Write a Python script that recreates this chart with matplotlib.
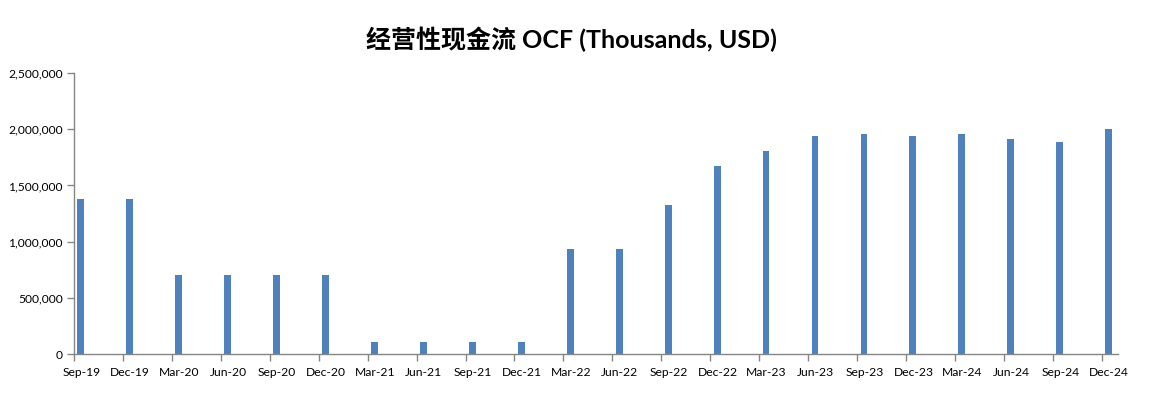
import matplotlib
matplotlib.use("Agg")
import matplotlib.pyplot as plt
from matplotlib.ticker import FuncFormatter
import numpy as np

plt.rcParams['font.family'] = ['Lato', 'Noto Sans CJK SC', 'DejaVu Sans']

# quarterly operating cash flow, thousands USD
quarters = ['Sep-19', 'Dec-19', 'Mar-20', 'Jun-20', 'Sep-20', 'Dec-20',
            'Mar-21', 'Jun-21', 'Sep-21', 'Dec-21', 'Mar-22', 'Jun-22',
            'Sep-22', 'Dec-22', 'Mar-23', 'Jun-23', 'Sep-23', 'Dec-23',
            'Mar-24', 'Jun-24', 'Sep-24', 'Dec-24']
ocf = [1380000, 1380000, 705000, 705000, 705000, 705000,
       110000, 110000, 110000, 110000, 935000, 935000,
       1327000, 1674000, 1807000, 1940000, 1957000, 1940000,
       1957000, 1913000, 1886000, 2002000]
y_ticks = [0, 500000, 1000000, 1500000, 2000000, 2500000]

bar_color = '#4F81BD'
axis_color = '#868686'

fig = plt.figure(figsize=(11.49, 3.97), dpi=100)
ax = fig.add_axes([0.0644, 0.1083, 0.9086, 0.7077])

x = np.arange(len(quarters))
ax.bar(x + 0.14, ocf, width=0.14, color=bar_color, zorder=2)

ax.set_xlim(0, len(quarters) - 1 + 0.33)
ax.set_ylim(0, 2500000)

# tick marks sit on the category boundaries, labels sit under the bars
ax.set_xticks(x, minor=True)
ax.set_xticks(x + 0.15)
ax.set_xticklabels(quarters)
ax.tick_params(axis='x', which='major', length=0, pad=9, labelsize=8.7, labelcolor='#000000')
ax.tick_params(axis='x', which='minor', length=5, width=1, color=axis_color, direction='out')

ax.set_yticks(y_ticks)
ax.yaxis.set_major_formatter(FuncFormatter(lambda v, p: f'{int(v):,}'))
ax.tick_params(axis='y', length=5, width=1, color=axis_color, pad=3, labelsize=8.7, labelcolor='#000000')

for side in ['top', 'right']:
    ax.spines[side].set_visible(False)
for side in ['left', 'bottom']:
    ax.spines[side].set_color(axis_color)
    ax.spines[side].set_linewidth(1)

fig.text(0.497, 0.902, '经营性现金流 OCF (Thousands, USD)', ha='center', va='center',
         fontsize=18, fontweight='bold',
         family=['Lato', 'Noto Sans CJK SC', 'DejaVu Sans'])

fig.savefig('out.png', dpi=100, facecolor='white')
